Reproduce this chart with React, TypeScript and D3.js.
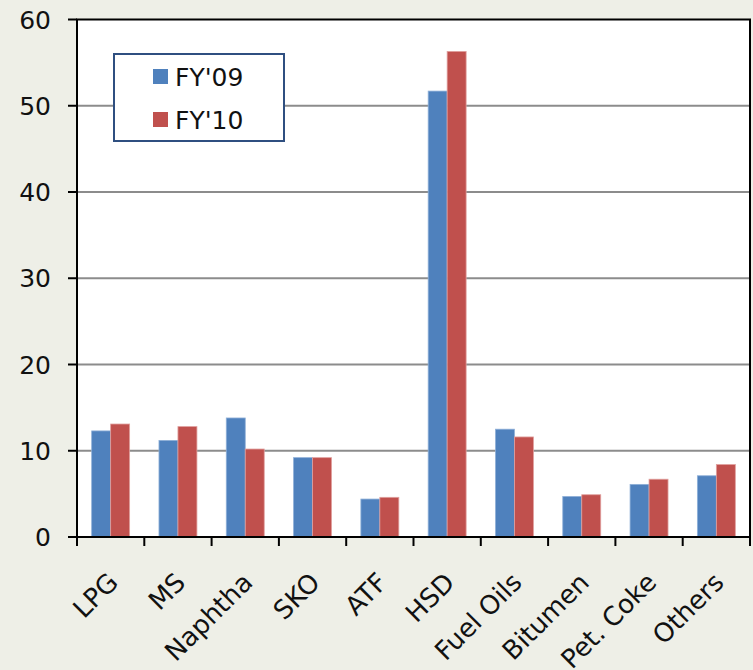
import React from "react";
import * as d3 from "d3";

const categories = ["LPG", "MS", "Naphtha", "SKO", "ATF", "HSD", "Fuel Oils", "Bitumen", "Pet. Coke", "Others"];
const fy09 = [12.3, 11.2, 13.8, 9.2, 4.4, 51.7, 12.5, 4.7, 6.1, 7.1];
const fy10 = [13.1, 12.8, 10.2, 9.2, 4.6, 56.3, 11.6, 4.9, 6.7, 8.4];
const seriesNames = ["FY'09", "FY'10"];
const seriesColors = ["#4F81BD", "#C0504D"];
const seriesStroke = ["#8fb0d8", "#e0a09e"];
const yTicks = [0, 10, 20, 30, 40, 50, 60];

const W = 753;
const H = 670;
const left = 77;
const right = 750;
const top = 19.5;
const bottom = 537;
const FONT = "DejaVu Sans, Verdana, sans-serif";

export default function App() {
  const x = d3.scaleBand<string>().domain(categories).range([left, right]).padding(0);
  const bw = x.bandwidth();
  const x1 = d3.scaleBand<string>().domain(seriesNames).range([bw * 0.218, bw * 0.782]).padding(0);
  const y = d3.scaleLinear().domain([0, 60]).range([bottom, top]);
  const data = [fy09, fy10];

  return (
    <svg width={W} height={H} style={{ position: "absolute", left: 0, top: 0 }} fontFamily={FONT}>
      <rect x={0} y={0} width={W} height={H} fill="#eeefe7" />
      <rect x={left} y={top} width={right - left} height={bottom - top} fill="#ffffff" />
      {yTicks.filter((t) => t > 0 && t < 60).map((t) => (
        <line key={"g" + t} x1={left} x2={right} y1={y(t)} y2={y(t)} stroke="#8c8c8c" strokeWidth={2} />
      ))}
      {data.map((vals, si) =>
        categories.map((c, ci) => (
          <rect
            key={si + "-" + c}
            x={(x(c) as number) + (x1(seriesNames[si]) as number)}
            y={y(vals[ci])}
            width={x1.bandwidth()}
            height={bottom - y(vals[ci])}
            fill={seriesColors[si]}
            stroke={seriesStroke[si]}
            strokeWidth={0.8}
          />
        ))
      )}
      {/* plot border */}
      <rect x={left} y={top} width={right - left} height={bottom - top} fill="none" stroke="#000" strokeWidth={2} />
      {/* y ticks and labels */}
      {yTicks.map((t) => (
        <g key={"y" + t}>
          <line x1={68} x2={left} y1={y(t)} y2={y(t)} stroke="#000" strokeWidth={2} />
          <text x={51} y={y(t)} dy="0.36em" textAnchor="end" fontSize={25} fill="#111">
            {t}
          </text>
        </g>
      ))}
      {/* x ticks */}
      {categories.map((c) => (
        <line key={"xt" + c} x1={x(c) as number} x2={x(c) as number} y1={bottom} y2={546} stroke="#000" strokeWidth={2} />
      ))}
      <line x1={right} x2={right} y1={bottom} y2={546} stroke="#000" strokeWidth={2} />
      {/* x labels */}
      {categories.map((c) => {
        const cx = (x(c) as number) + bw / 2;
        return (
          <text
            key={"xl" + c}
            transform={`translate(${cx + 9},${584}) rotate(-45)`}
            textAnchor="end"
            fontSize={26}
            fill="#111"
          >
            {c}
          </text>
        );
      })}
      {/* legend */}
      <rect x={114} y={54} width={170} height={87} fill="#fff" stroke="#2f4f80" strokeWidth={2} />
      {seriesNames.map((s, i) => (
        <g key={"lg" + s}>
          <rect x={153} y={69 + i * 43} width={15} height={15} fill={seriesColors[i]} />
          <text x={175} y={86 + i * 43} fontSize={25} fill="#111">
            {s}
          </text>
        </g>
      ))}
    </svg>
  );
}
